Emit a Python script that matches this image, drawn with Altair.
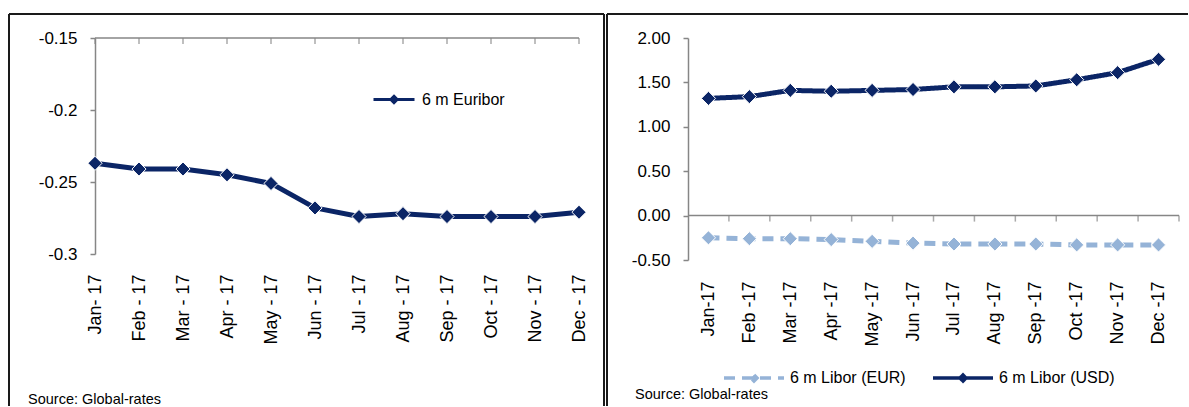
import json

import altair as alt
import pandas as pd

# ---- data -------------------------------------------------------------
month_idx = list(range(1, 13))
euribor_labels = ["Jan- 17", "Feb - 17", "Mar - 17", "Apr - 17", "May - 17", "Jun - 17",
                  "Jul - 17", "Aug - 17", "Sep - 17", "Oct - 17", "Nov - 17", "Dec - 17"]
libor_labels = ["Jan-17", "Feb -17", "Mar -17", "Apr -17", "May -17", "Jun -17",
                "Jul -17", "Aug -17", "Sep -17", "Oct -17", "Nov -17", "Dec -17"]
euribor_6m = [-0.237, -0.241, -0.241, -0.245, -0.251, -0.268,
              -0.274, -0.272, -0.274, -0.274, -0.274, -0.271]
libor_eur_6m = [-0.25, -0.26, -0.26, -0.27, -0.29, -0.31,
                -0.32, -0.32, -0.32, -0.33, -0.33, -0.33]
libor_usd_6m = [1.32, 1.34, 1.41, 1.40, 1.41, 1.42,
                1.45, 1.45, 1.46, 1.53, 1.61, 1.76]
euribor_ticks = [-0.3, -0.25, -0.2, -0.15]
libor_ticks = [-0.5, 0.0, 0.5, 1.0, 1.5, 2.0]
series_euribor = "6 m Euribor"
series_eur = "6 m Libor (EUR)"
series_usd = "6 m Libor (USD)"
source_note = "Source: Global-rates"

# ---- styling ------------------------------------------------------------
FONT = "Liberation Sans, Arial, sans-serif"
NAVY = "#0B2566"
LIGHT = "#95B3D7"
GREY = "#868686"
FRAME = "#1a1a1a"
MARKER = 200

euribor_df = pd.DataFrame({"m": month_idx, "v": euribor_6m, "s": series_euribor})
libor_df = pd.concat([
    pd.DataFrame({"m": month_idx, "v": libor_eur_6m, "s": series_eur}),
    pd.DataFrame({"m": month_idx, "v": libor_usd_6m, "s": series_usd}),
], ignore_index=True)
note_df = pd.DataFrame({"note": [source_note]})


def month_label_expr(labels):
    return json.dumps(labels) + "[datum.value - 1]"


def frame(left, right, top, bottom, with_right=True):
    """Panel border drawn around the whole panel, relative to the plot origin."""
    base = alt.Chart(note_df)
    parts = [
        base.mark_rule(color=FRAME, strokeWidth=2).encode(
            x=alt.value(left), y=alt.value(top), y2=alt.value(bottom)),
        base.mark_rule(color=FRAME, strokeWidth=2).encode(
            x=alt.value(left), x2=alt.value(right), y=alt.value(top)),
    ]
    if with_right:
        parts.append(base.mark_rule(color=FRAME, strokeWidth=2).encode(
            x=alt.value(right), y=alt.value(top), y2=alt.value(bottom)))
    return parts


# ---- left panel: 6 m Euribor -------------------------------------------
LW, LH = 484, 216
x_left = alt.X("m:Q", scale=alt.Scale(domain=[1, 12], nice=False, zero=False),
               axis=alt.Axis(values=month_idx, labelExpr=month_label_expr(euribor_labels),
                             labelAngle=-90, domain=False, ticks=False, grid=False,
                             labelPadding=20, labelFontSize=18, title=None))
y_left = alt.Y("v:Q", scale=alt.Scale(domain=[-0.3, -0.15], nice=False, zero=False),
               axis=alt.Axis(values=euribor_ticks,
                             labelExpr="replace(format(datum.value, '.2~f'), '\u2212', '-')",
                             grid=False, tickSize=5, labelPadding=13, title=None,
                             minExtent=60, maxExtent=60))
left_legend = alt.Legend(orient="none", legendX=277, legendY=39.5, title=None,
                         symbolType="M-1,0H1M0,-0.15L0.15,0L0,0.15L-0.15,0Z",
                         symbolSize=1681, symbolStrokeWidth=3, labelOffset=6,
                         labelFontSize=16, labelFont=FONT, labelColor="black", padding=0)
color_left = alt.Color("s:N", scale=alt.Scale(domain=[series_euribor], range=[NAVY]),
                       legend=left_legend)

euribor_line = alt.Chart(euribor_df).mark_line(strokeWidth=5, strokeJoin="round").encode(
    x=x_left, y=y_left, color=color_left)
euribor_pts = alt.Chart(euribor_df).mark_point(
    shape="diamond", filled=True, size=MARKER, opacity=1, stroke="white", strokeWidth=1
).encode(x="m:Q", y="v:Q", color=alt.Color("s:N"))

left_top_line = alt.Chart(note_df).mark_rule(color=GREY, strokeWidth=1.5).encode(
    x=alt.datum(1), x2=alt.datum(12), y=alt.datum(-0.15))
left_top_ticks = alt.Chart(euribor_df).mark_tick(
    orient="vertical", size=6, thickness=1.5, yOffset=3, color=GREY
).encode(x="m:Q", y=alt.datum(-0.15))
left_note = alt.Chart(note_df).mark_text(
    align="left", baseline="alphabetic", font=FONT, fontSize=14.5, color="black"
).encode(x=alt.value(-67), y=alt.value(366), text="note:N")

left_panel = alt.layer(
    *frame(-86, 509, -24, 368),
    left_top_line, left_top_ticks, euribor_line, euribor_pts, left_note,
).properties(width=LW, height=LH)

# ---- right panel: 6 m Libor EUR / USD -----------------------------------
RW, RH = 491, 222
x_right = alt.X("m:Q", scale=alt.Scale(domain=[0.5, 12.5], nice=False, zero=False),
                axis=alt.Axis(values=month_idx, labelExpr=month_label_expr(libor_labels),
                              labelAngle=-90, domain=False, ticks=False, grid=False,
                              labelPadding=21, labelFontSize=18, title=None))
y_right = alt.Y("v:Q", scale=alt.Scale(domain=[-0.5, 2.0], nice=False, zero=False),
                axis=alt.Axis(values=libor_ticks,
                              labelExpr="replace(format(datum.value, '.2f'), '\u2212', '-')",
                              grid=False, tickSize=5, labelPadding=13, title=None,
                              minExtent=60, maxExtent=60))
right_legend = alt.Legend(orient="none", direction="horizontal", legendX=34, legendY=308,
                          title=None, symbolType="M-1,0H1M0,-0.1L0.1,0L0,0.1L-0.1,0Z",
                          symbolSize=3600, symbolStrokeWidth=3.5, labelOffset=4,
                          columnPadding=20, labelFontSize=16, labelFont=FONT,
                          labelColor="black", padding=0)
color_right = alt.Color("s:N", scale=alt.Scale(domain=[series_eur, series_usd],
                                               range=[LIGHT, NAVY]),
                        legend=right_legend)
dash_right = alt.StrokeDash("s:N", scale=alt.Scale(domain=[series_eur, series_usd],
                                                   range=[[11, 7], [1, 0]]),
                            legend=right_legend)

libor_line = alt.Chart(libor_df).mark_line(strokeWidth=5, strokeJoin="round").encode(
    x=x_right, y=y_right, color=color_right, strokeDash=dash_right)
libor_pts = alt.Chart(libor_df).mark_point(
    shape="diamond", filled=True, size=MARKER, opacity=1, stroke="white", strokeWidth=1
).encode(x="m:Q", y="v:Q", color=alt.Color("s:N"))

zero_line = alt.Chart(note_df).mark_rule(color=GREY, strokeWidth=1.5).encode(
    x=alt.datum(0.5), x2=alt.datum(12.5), y=alt.datum(0))
zero_ticks = alt.Chart(euribor_df).transform_calculate(edge="datum.m + 0.5").mark_tick(
    orient="vertical", size=6, thickness=1.5, yOffset=3, color=GREY
).encode(x="edge:Q", y=alt.datum(0))
right_note = alt.Chart(note_df).mark_text(
    align="left", baseline="alphabetic", font=FONT, fontSize=14.5, color="black"
).encode(x=alt.value(-53), y=alt.value(361), text="note:N")

right_panel = alt.layer(
    *frame(-81, 500, -24, 368, with_right=False),
    zero_line, zero_ticks, libor_line, libor_pts, right_note,
).properties(width=RW, height=RH)

# ---- side by side ---------------------------------------------------------
chart = alt.hconcat(
    left_panel, right_panel, spacing=109, bounds="flush"
).resolve_scale(
    color="independent", strokeDash="independent"
).resolve_legend(
    color="independent", strokeDash="independent"
).properties(
    padding={"left": 8, "top": 13, "right": 0, "bottom": 0},
    background="white",
).configure_view(
    stroke=None
).configure_axis(
    labelFont=FONT, labelFontSize=17, labelColor="black",
    domainColor=GREY, domainWidth=1.5, tickColor=GREY, tickWidth=1.5,
)

chart.save("out.html", embed_options={"renderer": "svg", "actions": False})
